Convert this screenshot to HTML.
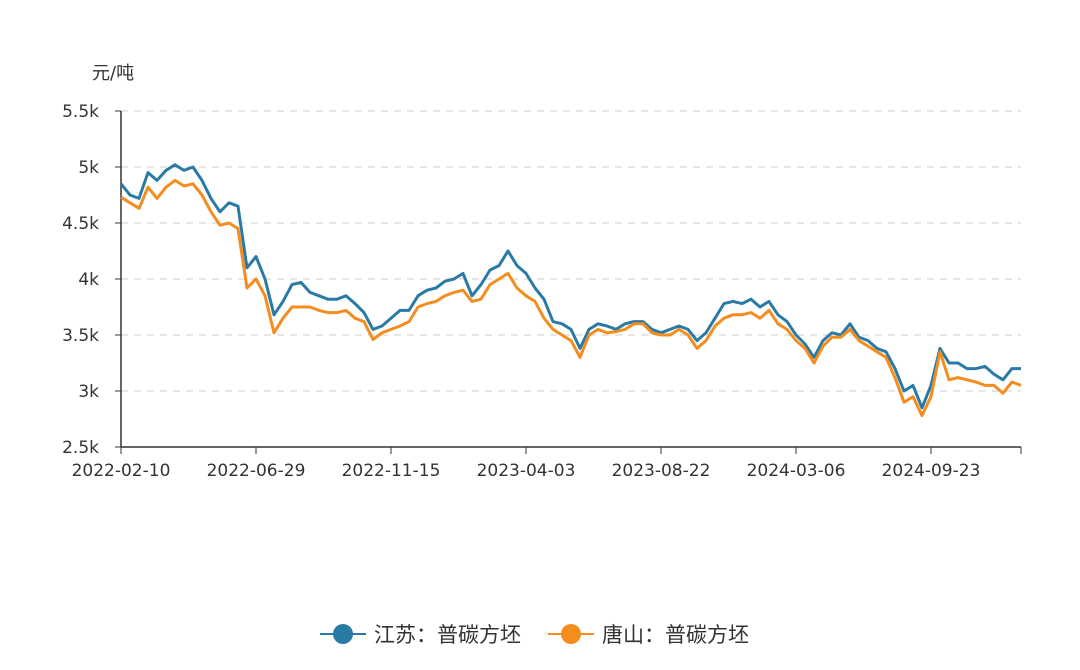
<!DOCTYPE html>
<html><head><meta charset="utf-8"><style>
body{margin:0;background:#fff;font-family:"DejaVu Sans","Noto Sans CJK SC",sans-serif;}
svg text{font-family:"DejaVu Sans","Noto Sans CJK SC",sans-serif;}
</style></head><body>
<svg id="c" width="1080" height="666"></svg>
<script>
const categories=["2022-02-10","2022-06-29","2022-11-15","2023-04-03","2023-08-22","2024-03-06","2024-09-23"];
const yTicks=[2.5,3,3.5,4,4.5,5,5.5];
const yTickLabels=["2.5k","3k","3.5k","4k","4.5k","5k","5.5k"];
const jiangsu=[4.85,4.75,4.72,4.95,4.88,4.97,5.02,4.97,5.0,4.88,4.72,4.6,4.68,4.65,4.1,4.2,4.0,3.68,3.8,3.95,3.97,3.88,3.85,3.82,3.82,3.85,3.78,3.7,3.55,3.58,3.65,3.72,3.72,3.85,3.9,3.92,3.98,4.0,4.05,3.85,3.95,4.08,4.12,4.25,4.12,4.05,3.92,3.82,3.62,3.6,3.55,3.38,3.55,3.6,3.58,3.55,3.6,3.62,3.62,3.55,3.52,3.55,3.58,3.55,3.45,3.52,3.65,3.78,3.8,3.78,3.82,3.75,3.8,3.68,3.62,3.5,3.42,3.3,3.45,3.52,3.5,3.6,3.48,3.45,3.38,3.35,3.2,3.0,3.05,2.85,3.05,3.38,3.25,3.25,3.2,3.2,3.22,3.15,3.1,3.2,3.2];
const tangshan=[4.73,4.68,4.63,4.82,4.72,4.82,4.88,4.83,4.85,4.75,4.6,4.48,4.5,4.45,3.92,4.0,3.85,3.52,3.65,3.75,3.75,3.75,3.72,3.7,3.7,3.72,3.65,3.62,3.46,3.52,3.55,3.58,3.62,3.75,3.78,3.8,3.85,3.88,3.9,3.8,3.82,3.95,4.0,4.05,3.92,3.85,3.8,3.65,3.55,3.5,3.45,3.3,3.5,3.55,3.52,3.53,3.55,3.6,3.6,3.52,3.5,3.5,3.55,3.5,3.38,3.45,3.58,3.65,3.68,3.68,3.7,3.65,3.72,3.6,3.55,3.45,3.38,3.25,3.4,3.48,3.48,3.55,3.45,3.4,3.35,3.3,3.12,2.9,2.95,2.78,2.95,3.35,3.1,3.12,3.1,3.08,3.05,3.05,2.98,3.08,3.05];
const NS="http://www.w3.org/2000/svg",svg=document.getElementById('c');
const X0=121,X1=1021,Y0=447,Y1=111,N=jiangsu.length;
const xs=i=>X0+(X1-X0)*i/(N-1);
const ys=v=>Y0-(v-2.5)/3*(Y0-Y1);
function mk(t,a,p){const e=document.createElementNS(NS,t);for(const k in a)e.setAttribute(k,a[k]);(p||svg).appendChild(e);return e;}
let t=mk('text',{x:92,y:79,'font-size':18,fill:'#333'});t.textContent='元/吨';


yTicks.forEach((v,i)=>{
  if(i>0){const g=mk('line',{x1:X0,x2:X1,y1:ys(v),y2:ys(v),stroke:'#ddd','stroke-dasharray':'7,6','stroke-width':1.5});
  
  }
  const tk=mk('line',{x1:X0-6,x2:X0,y1:ys(v),y2:ys(v),stroke:'#333'});
  
  
  const l=mk('text',{x:X0-22,y:ys(v)+6,'text-anchor':'end','font-size':17,fill:'#333'});l.textContent=yTickLabels[i];
  
  
});
const ya=mk('line',{x1:X0,x2:X0,y1:Y1,y2:Y0,stroke:'#333','stroke-width':1.5});


const xa=mk('line',{x1:X0,x2:X1,y1:Y0,y2:Y0,stroke:'#333','stroke-width':1.5});


const step=(N-1)/((X1-X0)/135);
categories.forEach((c,i)=>{
  const x=xs(i*step);
  const tk=mk('line',{x1:x,x2:x,y1:Y0,y2:Y0+7,stroke:'#333'});
  
  
  const l=mk('text',{x:x,y:Y0+29,'text-anchor':'middle','font-size':17,fill:'#333'});l.textContent=c;
  
  
});
const et=mk('line',{x1:X1,x2:X1,y1:Y0,y2:Y0+7,stroke:'#333'});


function line(arr,col,name){
  const p=mk('path',{d:arr.map((v,i)=>(i?'L':'M')+xs(i).toFixed(1)+','+ys(v).toFixed(1)).join(''),fill:'none',stroke:col,'stroke-width':3,'stroke-linejoin':'round'});
  
  
}
line(jiangsu,'#2a7aa6','jiangsu-line');
line(tangshan,'#f58d1e','tangshan-line');
function leg(x,col,txt,name){
  const g=mk('g',{});
  
  
  mk('line',{x1:x,x2:x+46,y1:634,y2:634,stroke:col,'stroke-width':2},g);
  mk('circle',{cx:x+23,cy:634,r:10,fill:col},g);
  const l=mk('text',{x:x+54,y:642,'font-size':21,fill:'#333'},g);l.textContent=txt;
}
leg(320,'#2a7aa6','江苏：普碳方坯','legend-jiangsu');
leg(548,'#f58d1e','唐山：普碳方坯','legend-tangshan');
</script>
</body></html>
